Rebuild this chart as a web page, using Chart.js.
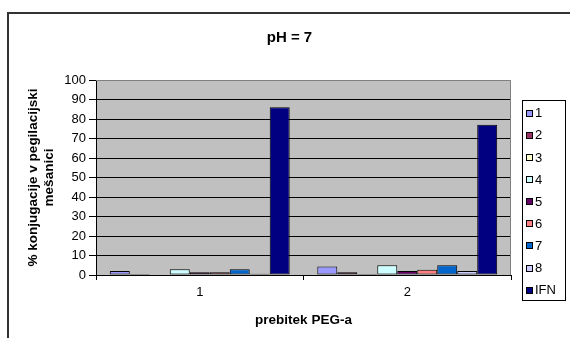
<!DOCTYPE html>
<html>
<head>
<meta charset="utf-8">
<script src="https://cdn.jsdelivr.net/npm/chart.js@4/dist/chart.umd.min.js"></script>
<style>
  html, body { margin: 0; padding: 0; background: #fff; }
  #wrap { width: 570px; height: 338px; position: relative; }
</style>
</head>
<body>
<div id="wrap"><canvas id="c" width="570" height="338"></canvas></div>
<script>
// Categories on the x axis (PEG excess)
const categories = ['1', '2'];

// Series names and colours
const seriesNames = ['1', '2', '3', '4', '5', '6', '7', '8', 'IFN'];
const seriesColors = ['#9999FF', '#993366', '#FFFFCC', '#CCFFFF', '#660066',
                      '#FF8080', '#0066CC', '#CCCCFF', '#000080'];

// % conjugation per series, one value per category
const s1  = [2.0, 4.3];
const s2  = [0.5, 1.4];
const s3  = [0.2, 0.5];
const s4  = [3.0, 5.0];
const s5  = [1.4, 2.0];
const s6  = [1.4, 2.7];
const s7  = [3.0, 5.0];
const s8  = [0.6, 2.0];
const ifn = [86, 77];
const seriesValues = [s1, s2, s3, s4, s5, s6, s7, s8, ifn];

// Y axis range
const yMin = 0, yMax = 100, yStep = 10;

const FONT = "'Liberation Sans', Arial, sans-serif";

const datasets = seriesNames.map((name, i) => ({
  label: name,
  data: seriesValues[i],
  backgroundColor: seriesColors[i],
  borderColor: '#000000',
  borderWidth: 1,
  borderSkipped: false,
  categoryPercentage: 0.867,
  barPercentage: 1.0
}));

// Grey plot background, outer frame, chart title and plot border
const decor = {
  id: 'decor',
  beforeDraw(chart) {
    const { ctx, chartArea: a } = chart;
    ctx.save();
    ctx.fillStyle = '#ffffff';
    ctx.fillRect(0, 0, chart.width, chart.height);
    // outer frame (top and left edges visible)
    ctx.fillStyle = '#333333';
    ctx.fillRect(7, 12, chart.width - 7, 2);
    ctx.fillRect(7, 12, 2, chart.height - 12);
    // plot area
    ctx.fillStyle = '#C0C0C0';
    ctx.fillRect(a.left, a.top, a.right - a.left, a.bottom - a.top);
    // title
    ctx.fillStyle = '#000000';
    ctx.font = 'bold 15px ' + FONT;
    ctx.textAlign = 'center';
    ctx.textBaseline = 'middle';
    ctx.fillText('pH = 7', 289.5, 38);
    ctx.restore();
  },
  afterDatasetsDraw(chart) {
    const { ctx, chartArea: a } = chart;
    ctx.save();
    ctx.strokeStyle = '#808080';
    ctx.lineWidth = 1;
    ctx.beginPath();
    ctx.moveTo(a.left, a.top + 0.5);
    ctx.lineTo(a.right - 0.5, a.top + 0.5);
    ctx.lineTo(a.right - 0.5, a.bottom);
    ctx.stroke();
    ctx.restore();
  }
};

// Boxed legend listing every dataset with a small swatch
const boxLegend = {
  id: 'boxLegend',
  afterDraw(chart) {
    const { ctx } = chart;
    const ds = chart.data.datasets;
    const x0 = 522, y0 = 100, w = 43, h = 200;
    const first = 113.3, step = 22.1;
    ctx.save();
    ctx.fillStyle = '#ffffff';
    ctx.fillRect(x0, y0, w, h);
    ctx.strokeStyle = '#000000';
    ctx.lineWidth = 1;
    ctx.strokeRect(x0 + 0.5, y0 + 0.5, w, h);
    ctx.font = '13px ' + FONT;
    ctx.textBaseline = 'middle';
    ctx.textAlign = 'left';
    ds.forEach((d, i) => {
      const cy = first + i * step;
      ctx.fillStyle = d.backgroundColor;
      ctx.fillRect(526, Math.round(cy - 3.5), 7, 7);
      ctx.strokeStyle = '#000000';
      ctx.strokeRect(526.5, Math.round(cy - 3.5) + 0.5, 6, 6);
      ctx.fillStyle = '#000000';
      ctx.fillText(d.label, 535, cy + 0.5);
    });
    ctx.restore();
  }
};

new Chart(document.getElementById('c'), {
  type: 'bar',
  data: { labels: categories, datasets },
  options: {
    responsive: false,
    animation: false,
    devicePixelRatio: 1,
    layout: { padding: { top: 80, right: 59, left: 0, bottom: 0 } },
    plugins: {
      legend: { display: false },
      title: { display: false },
      tooltip: { enabled: false }
    },
    scales: {
      x: {
        grid: {
          offset: true,
          drawOnChartArea: false,
          drawTicks: true,
          tickLength: 5,
          color: '#000000'
        },
        border: { color: '#000000', width: 1 },
        ticks: { color: '#000000', font: { family: FONT, size: 13 }, padding: 5 },
        title: {
          display: true,
          text: 'prebitek PEG-a',
          color: '#000000',
          font: { family: FONT, size: 13.5, weight: 'bold', lineHeight: 1.2 },
          padding: { top: 0, bottom: 10 }
        },
        afterFit(scale) { scale.height = 63; }
      },
      y: {
        min: yMin,
        max: yMax,
        grid: {
          color: (c) => (c.tick && c.tick.value === yMax) ? 'rgba(0,0,0,0)' : '#000000',
          tickColor: '#000000',
          tickLength: 7,
          lineWidth: 1
        },
        border: { color: '#000000', width: 1 },
        ticks: {
          stepSize: yStep,
          color: '#000000',
          font: { family: FONT, size: 13 },
          padding: 3
        },
        title: {
          display: true,
          text: ['% konjugacije v pegilacijski', 'mešanici'],
          color: '#000000',
          font: { family: FONT, size: 13.5, weight: 'bold', lineHeight: 1.2 },
          padding: { top: 25, bottom: 0 }
        },
        afterFit(scale) { scale.width = 96; }
      }
    }
  },
  plugins: [decor, boxLegend]
});
</script>
</body>
</html>
